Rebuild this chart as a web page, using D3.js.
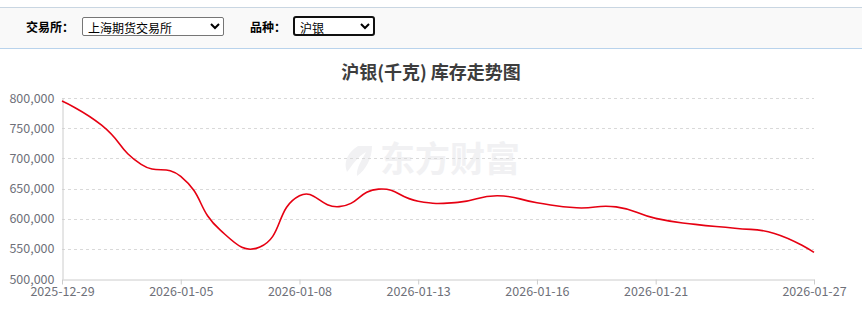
<!DOCTYPE html>
<meta charset="utf-8">
<style>
body { margin: 0; background: #fff; font-family: "Noto Sans CJK SC", "Noto Sans", sans-serif; }
.bar {
	position: absolute; left: 0; top: 7px; width: 862px; height: 40px;
	background: #f9f9f9; border-top: 1px solid #c9d6e2; border-bottom: 1px solid #b9d3ec;
}
.bar label { position: absolute; top: 11px; font-size: 12px; font-weight: bold; color: #000; line-height: 16px; }
.bar select {
	position: absolute; top: 9px; height: 19px; font-size: 12px; padding: 0 0 0 1px;
	font-family: "Noto Sans CJK SC", sans-serif; background: #fff; color: #000;
}
#ex { left: 82px; width: 142px; border: 1px solid #767676; border-radius: 2px; }
#pz { left: 293px; width: 82px; border: 2px solid #101010; border-radius: 3px; top: 8px; height: 20px; }
svg { position: absolute; left: 0; top: 0; }
text { font-family: "Noto Sans CJK SC", "Noto Sans", sans-serif; }
</style>
<svg width="862" height="318"></svg>
<div class="bar">
	<label style="left:26px">交易所：</label>
	<select id="ex"><option>上海期货交易所</option></select>
	<label style="left:250px">品种：</label>
	<select id="pz"><option>沪银</option></select>
</div>
<script src="https://d3js.org/d3.v7.min.js"></script>
<script>
	var dates = ["2025-12-29", "2025-12-30", "2025-12-31", "2026-01-05", "2026-01-06",
		"2026-01-07", "2026-01-08", "2026-01-09", "2026-01-12", "2026-01-13",
		"2026-01-14", "2026-01-15", "2026-01-16", "2026-01-19", "2026-01-20",
		"2026-01-21", "2026-01-22", "2026-01-23", "2026-01-26", "2026-01-27"];
	var values = [795000, 755000, 690000, 670000, 581000,
		553000, 638000, 620000, 649000, 629000,
		627000, 638000, 626500, 618000, 619500,
		600500, 590500, 584000, 575500, 544000];
	var yTicks = [500000, 550000, 600000, 650000, 700000, 750000, 800000];
	var xLabels = ["2025-12-29", "2026-01-05", "2026-01-08", "2026-01-13", "2026-01-16", "2026-01-21", "2026-01-27"];

	var svg = d3.select("svg");
	var gLeft = 62, gRight = 814, gTop = 98, gBottom = 279;

	var x = d3.scalePoint().domain(dates).range([gLeft, gRight]);
	var y = d3.scaleLinear().domain([500000, 800000]).range([gBottom, gTop]);

	// echarts-like smooth line (smooth = 0.5)
	function EcSmooth(context) { this._context = context; }
	EcSmooth.prototype = {
		areaStart: function() {}, areaEnd: function() {},
		lineStart: function() { this._pts = []; },
		point: function(px, py) { this._pts.push([+px, +py]); },
		lineEnd: function() {
			var c = this._context, pts = this._pts, s = 0.5, n = pts.length;
			var cps = [];
			for (var i = 0; i < n; i++) {
				var p = pts[i];
				if (i === 0 || i === n - 1) { cps.push([p[0], p[1]], [p[0], p[1]]); continue; }
				var a = pts[i - 1], b = pts[i + 1];
				var vx = (b[0] - a[0]) * s, vy = (b[1] - a[1]) * s;
				var d0 = Math.hypot(p[0] - a[0], p[1] - a[1]);
				var d1 = Math.hypot(p[0] - b[0], p[1] - b[1]);
				var sum = d0 + d1;
				d0 /= sum; d1 /= sum;
				cps.push([p[0] - vx * d0, p[1] - vy * d0], [p[0] + vx * d1, p[1] + vy * d1]);
			}
			c.moveTo(pts[0][0], pts[0][1]);
			for (var j = 1; j < n; j++) {
				var c0 = cps[2 * (j - 1) + 1], c1 = cps[2 * j];
				c.bezierCurveTo(c0[0], c0[1], c1[0], c1[1], pts[j][0], pts[j][1]);
			}
		}
	};
	function ecSmooth(context) { return new EcSmooth(context); }

	// watermark
	var wm = svg.append("g").attr("fill", "#f1f1f3");
	wm.append("path")
		.attr("d", "M358,146 C348,152 343,162 347,172 C352,166 356,158 366,152 C362,160 356,168 357,176 C366,170 372,158 372,146 Z");
	wm.append("text")
		.attr("x", 380).attr("y", 172)
		.style("font-size", "35px").style("font-weight", "bold")
		.text("东方财富");

	// title
	svg.append("text")
		.attr("x", 431).attr("y", 79)
		.style("text-anchor", "middle")
		.style("font-size", "18px")
		.style("font-weight", "bold")
		.style("fill", "#3d3d3d")
		.text("沪银(千克) 库存走势图");

	// grid
	svg.append("g").selectAll("line").data(yTicks.slice(1)).join("line")
		.attr("x1", gLeft).attr("x2", gRight)
		.attr("y1", function(d) { return Math.round(y(d)) + 0.5; })
		.attr("y2", function(d) { return Math.round(y(d)) + 0.5; })
		.style("stroke", "#d9d9d9")
		.style("stroke-dasharray", "3,3");

	// y axis
	var yAxis = svg.append("g")
		.attr("transform", "translate(" + (gLeft + 0.5) + ",0)")
		.call(d3.axisLeft(y).tickValues(yTicks).tickFormat(d3.format(",")).tickSize(0).tickPadding(8));
	yAxis.select(".domain").style("stroke", "#cccccc");
	yAxis.selectAll("text").style("font-size", "12.5px").style("fill", "#6e7079");

	// x axis
	var xAxis = svg.append("g")
		.attr("transform", "translate(0," + (gBottom + 0.5) + ")")
		.call(d3.axisBottom(x).tickValues(xLabels).tickSize(5).tickSizeOuter(0).tickPadding(3));
	xAxis.select(".domain").style("stroke", "#cccccc");
	xAxis.selectAll("line").style("stroke", "#cccccc");
	xAxis.selectAll("text").style("font-size", "12.5px").style("fill", "#6e7079");

	// line
	var line = d3.line()
		.x(function(d, i) { return x(dates[i]); })
		.y(function(d) { return y(d); })
		.curve(ecSmooth);
	svg.append("path")
		.datum(values)
		.attr("d", line)
		.style("fill", "none")
		.style("stroke", "#e60012")
		.style("stroke-width", 1.6);
</script>
